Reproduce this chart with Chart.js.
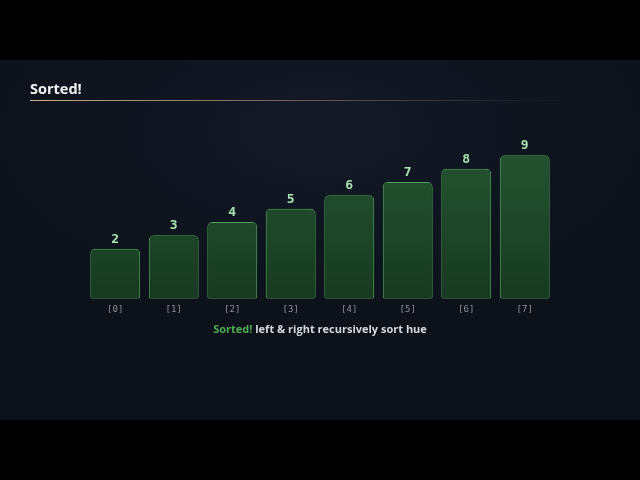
<!DOCTYPE html>
<html lang="en">
<head>
    <meta charset="UTF-8">
    <title>Sorted!</title>
    <script src="https://cdn.jsdelivr.net/npm/chart.js@4.4.1/dist/chart.umd.min.js"></script>
    <style>
        html, body {
            margin: 0;
            padding: 0;
            width: 640px;
            height: 480px;
            background: #000;
            overflow: hidden;
        }
        .panel {
            position: absolute;
            left: 0;
            top: 60px;
            width: 640px;
            height: 360px;
            background: radial-gradient(ellipse 60% 55% at 50% 20%, #131a26 0%, #0c111a 100%);
            font-family: "Open Sans", "Noto Sans", sans-serif;
        }
        .title {
            position: absolute;
            left: 30px;
            top: 19px;
            color: #f2f2f2;
            font-weight: bold;
            font-size: 14.5px;
        }
        .rule {
            position: absolute;
            left: 30px;
            top: 40px;
            width: 555px;
            height: 1px;
            background: linear-gradient(to right, #c9ae86, rgba(180, 140, 120, 0.5) 55%, rgba(60, 70, 80, 0.3) 85%, rgba(12, 17, 26, 0));
        }
        .caption {
            position: absolute;
            left: 0;
            width: 640px;
            top: 261px;
            text-align: center;
            color: #d4d7dc;
            font-weight: bold;
            font-size: 11px;
        }
        .caption span {
            color: #4caf50;
        }
        #chart {
            position: absolute;
            left: 0;
            top: 0;
        }
    </style>
</head>
<body>
    <div class="panel">
        <canvas id="chart" width="640" height="360"></canvas>
        <div class="title">Sorted!</div>
        <div class="rule"></div>
        <div class="caption"><span>Sorted!</span> left &amp; right recursively sort hue</div>
    </div>
    <script>
        const labels = ['[0]', '[1]', '[2]', '[3]', '[4]', '[5]', '[6]', '[7]'];
        const values = [2, 3, 4, 5, 6, 7, 8, 9];

        // value label above each bar
        const valueLabels = {
            id: 'valueLabels',
            afterDatasetsDraw(chart) {
                const ctx = chart.ctx;
                const meta = chart.getDatasetMeta(0);
                ctx.save();
                ctx.font = 'bold 13px "DejaVu Sans Mono", monospace';
                ctx.fillStyle = '#a6e3b0';
                ctx.textAlign = 'center';
                ctx.textBaseline = 'bottom';
                meta.data.forEach((bar, i) => {
                    ctx.fillText(values[i], bar.x, bar.y - 3);
                });
                ctx.restore();
            }
        };

        const ctx = document.getElementById('chart').getContext('2d');
        new Chart(ctx, {
            type: 'bar',
            data: {
                labels: labels,
                datasets: [{
                    data: values,
                    base: -1.76,
                    backgroundColor: function(context) {
                        const area = context.chart.chartArea;
                        if (!area) return '#1d4428';
                        const g = context.chart.ctx.createLinearGradient(0, area.top, 0, area.bottom);
                        g.addColorStop(0, '#255532');
                        g.addColorStop(1, '#173a20');
                        return g;
                    },
                    borderColor: '#52a45b',
                    borderWidth: 1,
                    borderSkipped: false,
                    borderRadius: { topLeft: 5, topRight: 5, bottomLeft: 2, bottomRight: 2 },
                    categoryPercentage: 1,
                    barPercentage: 0.853
                }]
            },
            options: {
                responsive: false,
                animation: false,
                layout: {
                    padding: { left: 86, right: 86, top: 82, bottom: 100.4 }
                },
                plugins: {
                    legend: { display: false },
                    tooltip: { enabled: false }
                },
                scales: {
                    x: {
                        grid: { display: false, drawTicks: false },
                        border: { display: false },
                        ticks: {
                            color: '#8a9099',
                            padding: 5,
                            font: { family: '"DejaVu Sans Mono", monospace', size: 9 }
                        }
                    },
                    y: {
                        display: false,
                        min: -1.76,
                        max: 10
                    }
                }
            },
            plugins: [valueLabels]
        });
    </script>
</body>
</html>
